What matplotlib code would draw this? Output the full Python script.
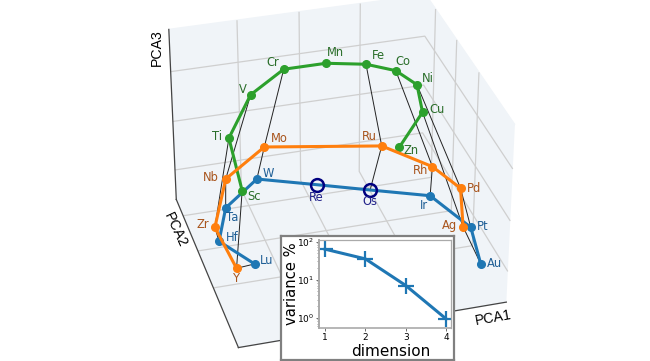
import numpy as np
import matplotlib
matplotlib.use('Agg')
import matplotlib.pyplot as plt
from mpl_toolkits.mplot3d import proj3d

# --- data ---
el3d = ['Sc','Ti','V','Cr','Mn','Fe','Co','Ni','Cu','Zn']
x3d = [0.084,0.118,0.264,0.425,0.591,0.735,0.837,0.890,0.856,0.708]
y3d = [0.238,0.571,0.826,0.952,0.952,0.903,0.850,0.751,0.576,0.388]
z3d = [0.66,0.68,0.70,0.72,0.72,0.72,0.70,0.68,0.66,0.64]

el4d = ['Y','Zr','Nb','Mo','Ru','Rh','Pd','Ag']
x4d = [0.031,0.011,0.120,0.308,0.736,0.882,0.943,0.881]
y4d = [0.129,0.370,0.652,0.808,0.693,0.523,0.374,0.160]
z4d = [0.33,0.36,0.38,0.40,0.40,0.38,0.36,0.33]

el5d = ['Lu','Hf','Ta','W','Re','Os','Ir','Pt','Au']
x5d = [0.137,0.043,0.114,0.270,0.477,0.660,0.872,0.957,0.930]
y5d = [0.297,0.453,0.641,0.781,0.680,0.589,0.511,0.287,0.094]
z5d = [0.18,0.20,0.22,0.24,0.24,0.24,0.22,0.20,0.16]

groups = [['Sc','Y','Lu'],['Ti','Zr','Hf'],['V','Nb','Ta'],['Cr','Mo','W'],
          ['Fe','Ru','Os'],['Co','Rh','Ir'],['Ni','Pd','Pt'],['Cu','Ag','Au']]
highlight = ['Re','Os']

dims = [1,2,3,4]
variance = [63,35,7,0.93]

# --- label offsets in pixels (right, down) ---
offs = {'Sc':(12,6),'Ti':(-12,-2),'V':(-8,-5),'Cr':(-11,-7),'Mn':(9,-11),'Fe':(12,-9),'Co':(7,-9),
        'Ni':(11,-6),'Cu':(14,-3),'Zn':(12,3),'Y':(0,10),'Zr':(-12,-3),'Nb':(-15,-1),'Mo':(15,-8),
        'Ru':(-12,-9),'Rh':(-12,4),'Pd':(13,0),'Ag':(-14,-1),'Lu':(12,-3),'Hf':(13,-4),'Ta':(7,10),
        'W':(11,-6),'Re':(0,13),'Os':(0,12),'Ir':(-6,10),'Pt':(12,-1),'Au':(14,0)}

W,H = 650,361
fig = plt.figure(figsize=(6.5,3.61),dpi=100)
S = 424
cx,cy = 330,170
ax = fig.add_axes([(cx-S/2)/W,(H-cy-S/2)/H,S/W,S/H],projection='3d')
ax.patch.set_alpha(0)
ax.computed_zorder = False
ax.view_init(elev=32,azim=-106)
ax.set_xticks([.26,.50,.74]);ax.set_yticks([.38,.63,.88]);ax.set_zticks([.18,.47,.76])
ax.set_xticklabels([]);ax.set_yticklabels([]);ax.set_zticklabels([])
for a in (ax.xaxis,ax.yaxis,ax.zaxis):
    a.set_pane_color('#f0f4f8')
    a._axinfo['grid']['color']='#cfcfcf'
    a._axinfo['grid']['linewidth']=.9
    a._axinfo['tick']['inward_factor']=0
    a._axinfo['tick']['outward_factor']=0
    a.line.set_color('#444444');a.line.set_linewidth(.9)

pos = {}
for els,xs,ys,zs in ((el3d,x3d,y3d,z3d),(el4d,x4d,y4d,z4d),(el5d,x5d,y5d,z5d)):
    for e,x,y,z in zip(els,xs,ys,zs):
        pos[e]=(x,y,z)

for g in groups:
    a = np.array([pos[e] for e in g])
    ax.plot(a[:,0],a[:,1],a[:,2],color='#222222',lw=.7,zorder=2)

solid5d = [i for i,e in enumerate(el5d) if e not in highlight]
ax.plot(x5d,y5d,z5d,'-o',color='#1f77b4',lw=2.2,ms=5.5,markevery=solid5d,zorder=3)
ax.plot(x3d,y3d,z3d,'-o',color='#2ca02c',lw=2.2,ms=5.5,zorder=4)
ax.plot(x4d,y4d,z4d,'-o',color='#ff7f0e',lw=2.2,ms=5.5,zorder=5)
h = np.array([pos[e] for e in highlight])
ax.plot(h[:,0],h[:,1],h[:,2],'o',mfc='none',mec='navy',mew=1.8,ms=9.2,ls='none',zorder=6)
ax.set_xlim(0,1);ax.set_ylim(0,1);ax.set_zlim(0,1)
fig.canvas.draw()

def annotate(els,col):
    for e in els:
        X,Y,_ = proj3d.proj_transform(*pos[e],ax.get_proj())
        dx,dy = offs[e]
        c = '#22228a' if e in highlight else col
        ax.annotate(e,xy=(X,Y),xytext=(dx*0.72,-dy*0.72),textcoords='offset points',ha='center',va='center',
                    fontsize=8.3,color=c,zorder=10,annotation_clip=False)
annotate(el3d,'#2a6e2a')
annotate(el4d,'#a8541c')
annotate(el5d,'#1f5f96')

fig.text(157/W,1-48/H,'PCA3',rotation=90,ha='center',va='center',family='Liberation Sans',fontsize=10.2)
fig.text(175/W,1-230/H,'PCA2',rotation=-65,ha='center',va='center',family='Liberation Sans',fontsize=10.2)
fig.text(493/W,1-318/H,'PCA1',rotation=10,ha='center',va='center',family='Liberation Sans',fontsize=10.2)

# inset frame
fr = fig.add_axes([281/W,1-360/H,173/W,124/H])
fr.set_xticks([]);fr.set_yticks([]);fr.set_facecolor('white')
for s in fr.spines.values():
    s.set_color('#808080');s.set_linewidth(1.6)

L,R,T,B = 319,451,240,328
ins = fig.add_axes([L/W,1-B/H,(R-L)/W,(B-T)/H])
ins.set_yscale('log')
ins.plot(dims,variance,'-+',color='#1f77b4',lw=2.2,ms=11,mew=1.6)
ins.set_xlim(0.85,4.12)
ins.set_ylim(10**-0.27,10**2.04)
ins.set_xticks(dims)
ins.tick_params(labelsize=6.5,length=2,width=.6,pad=1.5,color='#555555')
ins.tick_params(which='minor',length=1.2,width=.4,color='#555555')
for s in ins.spines.values():
    s.set_color('#aaaaaa');s.set_linewidth(.9)
ins.spines['left'].set_linewidth(1.4)
ins.spines['bottom'].set_linewidth(1.2)
ins.set_xlabel('dimension',fontsize=11)
ins.xaxis.set_label_coords(.545,-.27)
ins.xaxis.label.set_verticalalignment('center')
ins.set_ylabel('variance %',fontsize=10.6)
ins.yaxis.set_label_coords(-.212,.5)
ins.yaxis.label.set_verticalalignment('center')

fig.savefig('out.png',dpi=100)
